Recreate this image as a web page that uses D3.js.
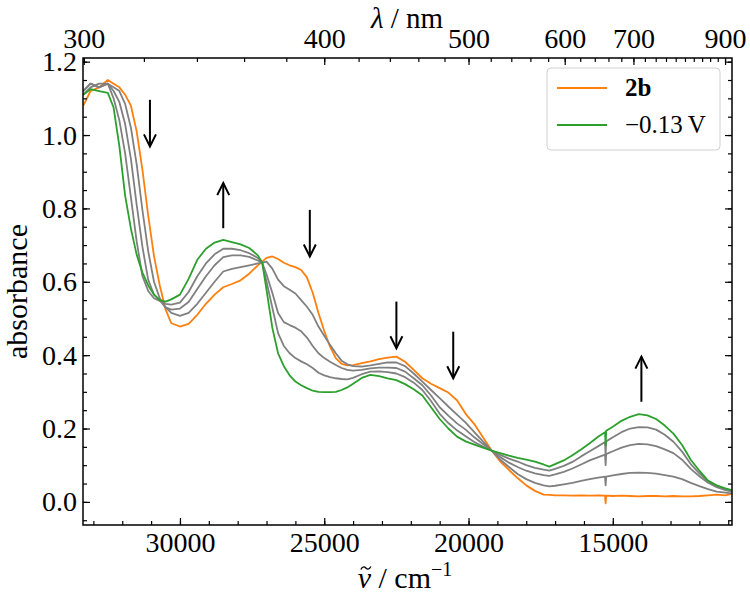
<!DOCTYPE html>
<html>
<head>
<meta charset="utf-8">
<script src="https://cdn.jsdelivr.net/npm/d3@7"></script>
<style>
	body { margin: 0; background: #fff; }
</style>
</head>
<body>
<svg id="chart" width="750" height="595"></svg>
<script>
	'use strict';

	// wavenumber grid (cm-1)
	var wavenumbers = [33350, 33100, 32800, 32500, 32300, 32100, 31900, 31700, 31500, 31300,
		31100, 30900, 30700, 30500, 30300, 30000, 29700, 29400, 29100, 28800,
		28500, 28200, 27900, 27600, 27300, 27150, 27000, 26800, 26600, 26400,
		26200, 26000, 25800, 25600, 25400, 25200, 25000, 24800, 24600, 24400,
		24200, 24000, 23700, 23400, 23100, 22800, 22500, 22200, 21900, 21600,
		21300, 21000, 20700, 20400, 20100, 19800, 19500, 19200, 18900, 18600,
		18300, 18000, 17700, 17400, 17200, 17000, 16700, 16400, 16100, 15800,
		15500, 15270, 15250, 15230, 15000, 14700, 14400, 14100, 13800, 13500,
		13200, 12900, 12600, 12300, 12000, 11700, 11400, 11100, 10870];

	var abs2b = [1.08, 1.12, 1.13, 1.15, 1.14, 1.13, 1.11, 1.08, 1.01, 0.905,
		0.78, 0.67, 0.59, 0.525, 0.487, 0.478, 0.485, 0.51, 0.54, 0.565,
		0.585, 0.594, 0.604, 0.622, 0.645, 0.655, 0.665, 0.669, 0.662, 0.652,
		0.645, 0.64, 0.632, 0.612, 0.57, 0.515, 0.466, 0.423, 0.392, 0.376,
		0.372, 0.373, 0.378, 0.383, 0.389, 0.393, 0.396, 0.382, 0.36, 0.337,
		0.322, 0.31, 0.298, 0.277, 0.24, 0.212, 0.176, 0.14, 0.11, 0.087,
		0.065, 0.045, 0.03, 0.02, 0.019, 0.018, 0.018, 0.017, 0.018, 0.017,
		0.018, 0.017, -0.004, 0.017, 0.016, 0.017, 0.016, 0.015, 0.016, 0.016,
		0.015, 0.016, 0.015, 0.015, 0.016, 0.018, 0.02, 0.018, 0.022];

	var absStep3 = [1.11, 1.13, 1.14, 1.14, 1.13, 1.12, 1.085, 1.02, 0.92, 0.795,
		0.683, 0.6, 0.555, 0.53, 0.515, 0.507, 0.515, 0.54, 0.57, 0.6,
		0.628, 0.635, 0.64, 0.645, 0.65, 0.652, 0.655, 0.636, 0.606, 0.588,
		0.578, 0.568, 0.55, 0.532, 0.51, 0.478, 0.453, 0.428, 0.405, 0.385,
		0.375, 0.37, 0.369, 0.372, 0.376, 0.38, 0.38, 0.37, 0.35, 0.328,
		0.305, 0.283, 0.26, 0.238, 0.216, 0.19, 0.165, 0.14, 0.115, 0.095,
		0.076, 0.062, 0.052, 0.045, 0.042, 0.044, 0.048, 0.052, 0.057, 0.062,
		0.066, 0.069, 0.045, 0.069, 0.072, 0.076, 0.079, 0.08, 0.079, 0.077,
		0.073, 0.069, 0.062, 0.052, 0.043, 0.035, 0.028, 0.025, 0.023];

	var absStep2 = [1.12, 1.14, 1.13, 1.14, 1.12, 1.09, 1.03, 0.935, 0.81, 0.695,
		0.605, 0.565, 0.55, 0.53, 0.524, 0.527, 0.545, 0.58, 0.615, 0.645,
		0.667, 0.672, 0.672, 0.668, 0.658, 0.652, 0.62, 0.57, 0.515, 0.49,
		0.482, 0.475, 0.465, 0.448, 0.425, 0.405, 0.392, 0.382, 0.373, 0.365,
		0.36, 0.358, 0.36, 0.364, 0.366, 0.366, 0.365, 0.355, 0.337, 0.318,
		0.29, 0.258, 0.235, 0.214, 0.197, 0.176, 0.158, 0.14, 0.122, 0.107,
		0.095, 0.085, 0.078, 0.073, 0.071, 0.075, 0.082, 0.091, 0.102, 0.113,
		0.122, 0.129, 0.1, 0.13, 0.138, 0.148, 0.155, 0.158, 0.157, 0.152,
		0.143, 0.133, 0.115, 0.09, 0.07, 0.052, 0.04, 0.032, 0.028];

	var absStep1 = [1.12, 1.14, 1.13, 1.14, 1.1, 1.04, 0.95, 0.83, 0.71, 0.615,
		0.575, 0.555, 0.548, 0.54, 0.538, 0.543, 0.572, 0.615, 0.65, 0.675,
		0.69, 0.69, 0.686, 0.678, 0.665, 0.652, 0.6, 0.53, 0.46, 0.425,
		0.405, 0.392, 0.383, 0.375, 0.365, 0.352, 0.345, 0.34, 0.337, 0.335,
		0.334, 0.338, 0.348, 0.355, 0.356, 0.354, 0.35, 0.34, 0.325, 0.305,
		0.275, 0.24, 0.215, 0.195, 0.179, 0.163, 0.151, 0.14, 0.128, 0.118,
		0.11, 0.1, 0.093, 0.088, 0.085, 0.09, 0.098, 0.109, 0.124, 0.138,
		0.152, 0.163, 0.128, 0.165, 0.176, 0.19, 0.2, 0.204, 0.203, 0.197,
		0.183, 0.164, 0.137, 0.103, 0.078, 0.056, 0.042, 0.035, 0.03];

	var absReduced = [1.11, 1.125, 1.12, 1.115, 1.075, 0.97, 0.835, 0.745, 0.674, 0.625,
		0.59, 0.565, 0.55, 0.546, 0.552, 0.565, 0.608, 0.66, 0.69, 0.707,
		0.714, 0.708, 0.702, 0.692, 0.672, 0.652, 0.578, 0.475, 0.405, 0.37,
		0.345, 0.328, 0.318, 0.31, 0.303, 0.3, 0.299, 0.299, 0.3, 0.305,
		0.312, 0.322, 0.338, 0.346, 0.343, 0.337, 0.332, 0.321, 0.307, 0.29,
		0.258, 0.226, 0.2, 0.178, 0.165, 0.156, 0.148, 0.14, 0.133, 0.126,
		0.12, 0.115, 0.11, 0.102, 0.096, 0.103, 0.113, 0.127, 0.143, 0.16,
		0.178, 0.19, 0.155, 0.194, 0.205, 0.221, 0.232, 0.239, 0.236, 0.226,
		0.208, 0.186, 0.155, 0.115, 0.085, 0.058, 0.045, 0.037, 0.032];

	// arrows: wavenumber, tail and head absorbance
	var arrowWavenumbers = [31040, 28500, 25500, 22500, 20530, 14010];
	var arrowTail = [1.096, 0.746, 0.796, 0.546, 0.464, 0.273];
	var arrowHead = [0.969, 0.869, 0.669, 0.419, 0.337, 0.396];

	var xTicks = [30000, 25000, 20000, 15000];
	var nmTicks = [300, 400, 500, 600, 700, 900];
	var yTicks = [0.0, 0.2, 0.4, 0.6, 0.8, 1.0, 1.2];

	var width = 750, height = 595;
	var margin = {top: 58, right: 18, bottom: 70, left: 83};
	var font = '"Liberation Serif", "DejaVu Serif", serif';

	var series = [
		{values: abs2b, color: '#ff7f0e'},
		{values: absStep3, color: '#808080'},
		{values: absStep2, color: '#808080'},
		{values: absStep1, color: '#808080'},
		{values: absReduced, color: '#2ca02c'}
	];

	var svg = d3.select('#chart');

	var x = d3.scaleLinear()
		.domain([33360, 10870])
		.range([margin.left, width - margin.right]);
	var y = d3.scaleLinear()
		.domain([-0.063, 1.21])
		.range([height - margin.bottom, margin.top]);

	svg.append('defs').append('clipPath')
		.attr('id', 'plot-clip')
		.append('rect')
		.attr('x', margin.left)
		.attr('y', margin.top)
		.attr('width', width - margin.left - margin.right)
		.attr('height', height - margin.top - margin.bottom);

	var line = d3.line()
		.x(function (d, i) {
			return x(wavenumbers[i]);
		})
		.y(function (d) {
			return y(d);
		});

	svg.append('g')
		.attr('clip-path', 'url(#plot-clip)')
		.selectAll('path')
		.data(series)
		.enter()
		.append('path')
		.attr('fill', 'none')
		.attr('stroke', function (d) {
			return d.color;
		})
		.attr('stroke-width', 1.8)
		.attr('stroke-linejoin', 'round')
		.attr('d', function (d) {
			return line(d.values);
		});

	// arrows
	var arrows = svg.append('g').attr('stroke', '#000').attr('stroke-width', 2).attr('fill', 'none');
	arrowWavenumbers.forEach(function (v, i) {
		var ax = x(v), y0 = y(arrowTail[i]), y1 = y(arrowHead[i]);
		var s = y1 < y0 ? 1 : -1;
		arrows.append('line')
			.attr('x1', ax).attr('x2', ax)
			.attr('y1', y0).attr('y2', y1);
		arrows.append('path')
			.attr('d', 'M' + (ax - 6) + ',' + (y1 + s * 12) + 'L' + ax + ',' + y1 + 'L' + (ax + 6) + ',' + (y1 + s * 12));
	});

	function styleAxis(g) {
		g.select('.domain').remove();
		g.selectAll('line').attr('stroke-width', 1.2);
		g.selectAll('text').attr('font-family', font).attr('font-size', 28).attr('fill', '#000');
	}

	var bottom = height - margin.bottom, right = width - margin.right;

	// bottom axis (wavenumber)
	svg.append('g').attr('transform', 'translate(0,' + bottom + ')')
		.call(d3.axisBottom(x).tickValues(xTicks).tickSize(-7).tickPadding(7).tickFormat(d3.format('d')))
		.call(styleAxis);
	svg.append('g').attr('transform', 'translate(0,' + bottom + ')')
		.call(d3.axisBottom(x).tickValues(d3.range(11000, 33001, 1000)).tickSize(-4).tickFormat(''))
		.call(styleAxis);

	// top axis (wavelength)
	svg.append('g').attr('transform', 'translate(0,' + margin.top + ')')
		.call(d3.axisTop(x).tickValues(nmTicks.map(function (l) {
			return 1e7 / l;
		})).tickSize(-7).tickPadding(10).tickFormat(function (d, i) {
			return nmTicks[i];
		}))
		.call(styleAxis);
	svg.append('g').attr('transform', 'translate(0,' + margin.top + ')')
		.call(d3.axisTop(x).tickValues(d3.range(300, 901, 20).map(function (l) {
			return 1e7 / l;
		})).tickSize(-4).tickFormat(''))
		.call(styleAxis);

	// left and right axes
	svg.append('g').attr('transform', 'translate(' + margin.left + ',0)')
		.call(d3.axisLeft(y).tickValues(yTicks).tickSize(-7).tickPadding(6).tickFormat(d3.format('.1f')))
		.call(styleAxis);
	svg.append('g').attr('transform', 'translate(' + margin.left + ',0)')
		.call(d3.axisLeft(y).tickValues(d3.range(-1, 25).map(function (k) {
			return k * 0.05;
		})).tickSize(-4).tickFormat(''))
		.call(styleAxis);
	svg.append('g').attr('transform', 'translate(' + right + ',0)')
		.call(d3.axisRight(y).tickValues(yTicks).tickSize(-7).tickFormat(''))
		.call(styleAxis);
	svg.append('g').attr('transform', 'translate(' + right + ',0)')
		.call(d3.axisRight(y).tickValues(d3.range(-1, 25).map(function (k) {
			return k * 0.05;
		})).tickSize(-4).tickFormat(''))
		.call(styleAxis);

	svg.append('rect')
		.attr('x', margin.left).attr('y', margin.top)
		.attr('width', right - margin.left).attr('height', bottom - margin.top)
		.attr('fill', 'none').attr('stroke', '#000').attr('stroke-width', 1.5);

	// axis titles
	svg.append('text')
		.attr('transform', 'translate(27,' + (margin.top + bottom) / 2 + ') rotate(-90)')
		.attr('text-anchor', 'middle')
		.attr('font-family', font).attr('font-size', 30)
		.text('absorbance');

	var topTitle = svg.append('text')
		.attr('x', 407).attr('y', 28)
		.attr('text-anchor', 'middle')
		.attr('font-family', font).attr('font-size', 29);
	topTitle.append('tspan').attr('font-style', 'italic').text('\u03bb');
	topTitle.append('tspan').text(' / nm');

	var bottomTitle = svg.append('text')
		.attr('x', 405).attr('y', 588)
		.attr('text-anchor', 'middle')
		.attr('font-family', font).attr('font-size', 30);
	bottomTitle.append('tspan').attr('font-style', 'italic').text('\u03bd');
	bottomTitle.append('tspan').text(' / cm');
	bottomTitle.append('tspan').attr('dy', -12).attr('font-size', 20).text('\u22121');

	// tilde over the nu, drawn as a short wave from the glyph's extent
	var nuBox = bottomTitle.node().getExtentOfChar(0);
	var tx = nuBox.x + nuBox.width / 2 + 1.5, ty = 588 - 20;
	svg.append('path')
		.attr('d', 'M' + (tx - 5) + ',' + (ty + 1.5) +
			'C' + (tx - 3) + ',' + (ty - 2.5) + ' ' + (tx - 1) + ',' + (ty - 1) + ' ' + tx + ',' + ty +
			'C' + (tx + 1) + ',' + (ty + 1) + ' ' + (tx + 3) + ',' + (ty + 2.5) + ' ' + (tx + 5) + ',' + (ty - 1.5))
		.attr('fill', 'none').attr('stroke', '#000').attr('stroke-width', 1.4);

	// legend
	var legend = svg.append('g');
	legend.append('rect')
		.attr('x', 547).attr('y', 68).attr('width', 173).attr('height', 82)
		.attr('rx', 4).attr('fill', '#fff').attr('stroke', '#d0d0d0').attr('stroke-width', 1);
	var legendItems = [
		{label: '2b', color: series[0].color, bold: true},
		{label: '\u22120.13\u2009V', color: series[4].color, bold: false}
	];
	legendItems.forEach(function (item, i) {
		var ly = 88 + i * 37;
		legend.append('line')
			.attr('x1', 557).attr('x2', 607).attr('y1', ly).attr('y2', ly)
			.attr('stroke', item.color).attr('stroke-width', 2);
		legend.append('text')
			.attr('x', 625).attr('y', ly + 8)
			.attr('font-family', font).attr('font-size', 25)
			.attr('font-weight', item.bold ? 'bold' : 'normal')
			.text(item.label);
	});
</script>
</body>
</html>
